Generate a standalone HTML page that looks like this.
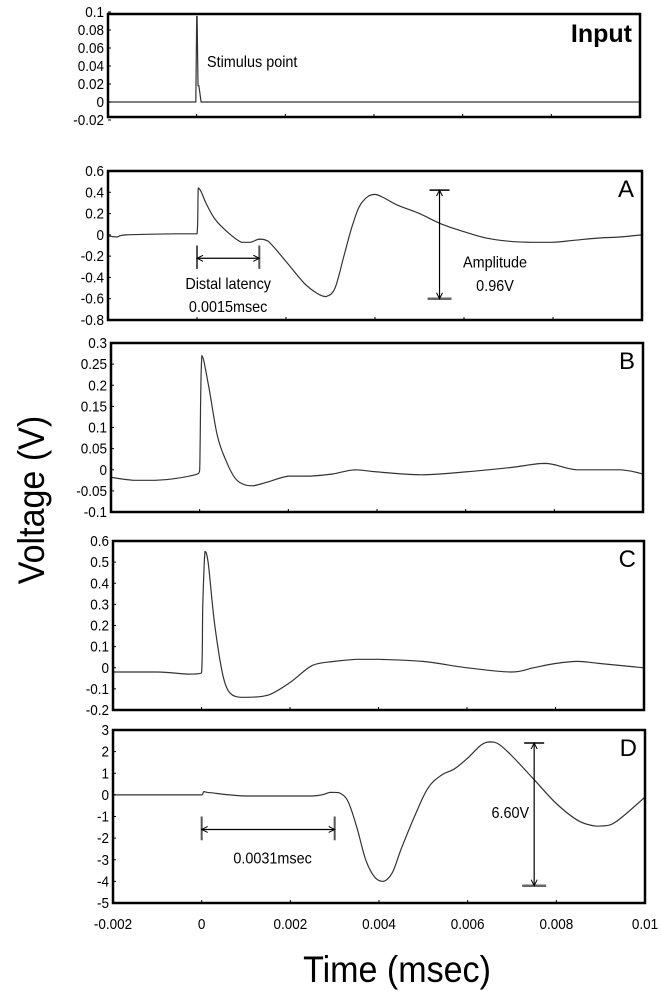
<!DOCTYPE html>
<html><head><meta charset="utf-8"><style>
html,body{margin:0;padding:0;background:#fff;}
svg{display:block;font-family:"Liberation Sans",sans-serif;}
</style></head><body>
<svg id="chart" width="661" height="1000" viewBox="0 0 661 1000" xmlns="http://www.w3.org/2000/svg">
<text x="0" y="0" transform="translate(44,500) rotate(-90) scale(0.92,1)" text-anchor="middle" font-size="37">Voltage (V)</text>
<text x="0" y="0" transform="translate(397,982) scale(0.92,1)" text-anchor="middle" font-size="37">Time (msec)</text>
</svg>
<script>
const xTicks=[-0.002,0,0.002,0.004,0.006,0.008,0.01];
const xTickLabels=["-0.002","0","0.002","0.004","0.006","0.008","0.01"];
const inputT=[-0.002,-0.00002,0,0.00001,0.00003,0.00005,0.0001,0.01];
const inputV=[0,0,0.095,0.095,0.018,0.018,0,0];
const aT=[-0.002,-0.0018,-0.0016,-0.0005,0,0.00003,0.0001,0.0002,0.0004,0.0007,0.001,0.0012,0.0014,0.0016,0.002,0.0024,0.0027,0.0029,0.0031,0.0033,0.0035,0.0037,0.004,0.0045,0.005,0.0055,0.006,0.0065,0.007,0.0075,0.008,0.0085,0.009,0.0095,0.01];
const aV=[-0.01,-0.02,0,0.01,0.01,0.44,0.4,0.3,0.15,0.02,-0.07,-0.07,-0.04,-0.06,-0.25,-0.45,-0.55,-0.58,-0.5,-0.2,0.1,0.3,0.38,0.28,0.2,0.1,0.03,-0.03,-0.06,-0.07,-0.07,-0.05,-0.03,-0.02,0];
const bT=[-0.002,-0.0015,-0.001,-0.0005,-0.00005,0.0,0.00005,0.0002,0.0004,0.0006,0.0008,0.001,0.0012,0.0015,0.002,0.0025,0.003,0.0035,0.004,0.005,0.006,0.007,0.0078,0.0085,0.0095,0.01];
const bV=[-0.018,-0.025,-0.025,-0.02,-0.01,0.0,0.27,0.2,0.08,0.02,-0.02,-0.035,-0.038,-0.03,-0.015,-0.015,-0.01,0.0,-0.005,-0.012,-0.005,0.005,0.015,0.0,0.0,-0.01];
const cT=[-0.002,-0.001,-0.0003,0,0.00003,0.00008,0.00015,0.0003,0.0005,0.0007,0.001,0.0015,0.002,0.0025,0.003,0.0035,0.004,0.005,0.006,0.007,0.0075,0.008,0.0085,0.009,0.01];
const cV=[-0.02,-0.02,-0.03,-0.025,0.3,0.55,0.5,0.2,-0.05,-0.13,-0.14,-0.13,-0.07,0.01,0.03,0.04,0.04,0.03,0.0,-0.02,0.0,0.02,0.03,0.02,0.0];
const dT=[-0.002,0,0.00005,0.0002,0.001,0.0025,0.0029,0.0031,0.0033,0.0035,0.0037,0.0039,0.0041,0.0043,0.0045,0.0048,0.0051,0.0054,0.0057,0.006,0.0063,0.0065,0.0067,0.007,0.0075,0.008,0.0085,0.0089,0.0092,0.0095,0.01];
const dV=[0,0,0.15,0.1,-0.05,-0.05,0.12,0.1,-0.3,-1.5,-3,-3.8,-4,-3.6,-2.5,-1,0.3,0.9,1.2,1.7,2.3,2.45,2.35,1.8,0.7,-0.4,-1.2,-1.45,-1.4,-1.0,-0.1];
const inputYTicks=["0.1","0.08","0.06","0.04","0.02","0","-0.02"];
const aYTicks=["0.6","0.4","0.2","0","-0.2","-0.4","-0.6","-0.8"];
const bYTicks=["0.3","0.25","0.2","0.15","0.1","0.05","0","-0.05","-0.1"];
const cYTicks=["0.6","0.5","0.4","0.3","0.2","0.1","0","-0.1","-0.2"];
const dYTicks=["3","2","1","0","-1","-2","-3","-4","-5"];

const svg=document.getElementById('chart');
const NS='http://www.w3.org/2000/svg';
function mk(tag,attrs,parent){const e=document.createElementNS(NS,tag);for(const k in attrs)e.setAttribute(k,attrs[k]);(parent||svg).appendChild(e);return e;}
function clamp(v,a,b){const lo=Math.min(a,b),hi=Math.max(a,b);return Math.max(lo,Math.min(hi,v));}
function smoothPath(px,py,smooth){
  let d='M'+px[0].toFixed(1)+' '+py[0].toFixed(1);
  for(let i=0;i<px.length-1;i++){
    if(!smooth){d+='L'+px[i+1].toFixed(1)+' '+py[i+1].toFixed(1);continue;}
    const i0=Math.max(0,i-1),i3=Math.min(px.length-1,i+2);
    let c1x=px[i]+(px[i+1]-px[i0])/6, c1y=py[i]+(py[i+1]-py[i0])/6;
    let c2x=px[i+1]-(px[i3]-px[i])/6, c2y=py[i+1]-(py[i3]-py[i])/6;
    c1x=clamp(c1x,px[i],px[i+1]);c2x=clamp(c2x,px[i],px[i+1]);
    c1y=clamp(c1y,py[i],py[i+1]);c2y=clamp(c2y,py[i],py[i+1]);
    d+='C'+c1x.toFixed(1)+' '+c1y.toFixed(1)+' '+c2x.toFixed(1)+' '+c2y.toFixed(1)+' '+px[i+1].toFixed(1)+' '+py[i+1].toFixed(1);
  }
  return d;
}

function panel(name,L,T,R,B,vmax,vmin,yTicks,ts,vs,label,lfs,bold,yfn){
  const g=mk('g',{});
  
  
  const xs=t=>L+(t+0.002)/0.012*(R-L);
  const ys=yfn||(v=>T+(vmax-v)/(vmax-vmin)*(B-T));
  const d=smoothPath(ts.map(xs),vs.map(ys),!yfn);
  const p=mk('path',{d:d,fill:'none',stroke:'#333','stroke-width':1.2},g);
  
  
  const f=mk('rect',{x:L,y:T,width:R-L,height:B-T,fill:'none',stroke:'#000','stroke-width':2.5},g);
  
  
  for(let i=0;i<yTicks.length;i++){
    const v=parseFloat(yTicks[i]);const y=ys(v);
    mk('line',{x1:L,x2:L+3,y1:y,y2:y,stroke:'#000','stroke-width':1},g);
    const tx=mk('text',{x:0,y:0,transform:`translate(${L-4},${y+5}) scale(0.9,1)`,'text-anchor':'end','font-size':15},g);
    tx.textContent=yTicks[i];
    
    
  }
  for(let i=1;i<xTicks.length-1;i++){const x=xs(xTicks[i]);mk('line',{x1:x,x2:x,y1:B,y2:B-3,stroke:'#000','stroke-width':1},g);}
  const lt=mk('text',{x:R-8,y:T+(bold?28:26),'text-anchor':'end','font-size':lfs,'font-weight':bold?'bold':'normal'},g);
  lt.textContent=label;
  
  
  return {g,xs,ys};
}
function arrowH(g,x1,x2,y,yb1,yb2,name){
  const a=mk('g',{},g);
  
  
  mk('line',{x1:x1,x2:x2,y1:y,y2:y,stroke:'#000','stroke-width':1.2},a);
  mk('line',{x1:x1,x2:x1,y1:yb1,y2:yb2,stroke:'#555','stroke-width':2},a);
  mk('line',{x1:x2,x2:x2,y1:yb1,y2:yb2,stroke:'#555','stroke-width':2},a);
  mk('path',{d:`M${x1+6} ${y-3}L${x1} ${y}L${x1+6} ${y+3}M${x2-6} ${y-3}L${x2} ${y}L${x2-6} ${y+3}`,fill:'none',stroke:'#000','stroke-width':1},a);
}
function arrowV(g,x,y1,y2,name){
  const a=mk('g',{},g);
  
  
  mk('line',{x1:x,x2:x,y1:y1,y2:y2,stroke:'#000','stroke-width':1.2},a);
  mk('line',{x1:x-10,x2:x+10,y1:y1,y2:y1,stroke:'#000','stroke-width':1.5},a);
  mk('line',{x1:x-12,x2:x+12,y1:y2,y2:y2,stroke:'#666','stroke-width':2.5},a);
  mk('path',{d:`M${x-3} ${y1+6}L${x} ${y1}L${x+3} ${y1+6}M${x-3} ${y2-6}L${x} ${y2}L${x+3} ${y2-6}`,fill:'none',stroke:'#000','stroke-width':1},a);
}
function txt(g,x,y,s,anchor,name,fs){
  const t=mk('text',{x:0,y:0,transform:`translate(${x},${y}) scale(0.9,1)`,'text-anchor':anchor,'font-size':fs||16},g);
  t.textContent=s;
  
  
}

const pi=panel('input',108,14,640,117,0.1,-0.02,inputYTicks,inputT,inputV,'Input',25,true,v=>102-v/0.02*18);
txt(pi.g,207,67,'Stimulus point','start','stimulus-point-annotation',16);

const pa=panel('a',108,171,642,320,0.6,-0.8,aYTicks,aT,aV,'A',24,false);
arrowH(pa.g,pa.xs(0),pa.xs(0.0014),pa.ys(-0.22),pa.ys(-0.1),pa.ys(-0.32),'distal-latency-bracket');
txt(pa.g,pa.xs(0.0007),pa.ys(-0.45)+6,'Distal latency','middle','distal-latency-label');
txt(pa.g,pa.xs(0.0007),pa.ys(-0.67)+6,'0.0015msec','middle','distal-latency-value');
arrowV(pa.g,pa.xs(0.00545),pa.ys(0.42),pa.ys(-0.6),'amplitude-arrow');
txt(pa.g,495,pa.ys(-0.25)+6,'Amplitude','middle','amplitude-label');
txt(pa.g,495,pa.ys(-0.47)+6,'0.96V','middle','amplitude-value');

const pb=panel('b',111,343,643,512,0.3,-0.1,bYTicks,bT,bV,'B',24,false);
const pc=panel('c',113,541,644,710,0.6,-0.2,cYTicks,cT,cV,'C',24,false);
const pd=panel('d',113,730,645,903,3,-5,dYTicks,dT,dV,'D',24,false);
arrowH(pd.g,pd.xs(0),pd.xs(0.003),pd.ys(-1.6),pd.ys(-1.0),pd.ys(-2.1),'d-latency-bracket');
txt(pd.g,pd.xs(0.0016),pd.ys(-2.9)+6,'0.0031msec','middle','d-latency-value');
arrowV(pd.g,pd.xs(0.0075),pd.ys(2.4),pd.ys(-4.2),'d-amplitude-arrow');
txt(pd.g,pd.xs(0.0075)-5,pd.ys(-0.8)+6,'6.60V','end','d-amplitude-value');

for(let i=0;i<xTicks.length;i++){
  const t=mk('text',{x:0,y:0,transform:`translate(${pd.xs(xTicks[i])},929) scale(0.9,1)`,'text-anchor':'middle','font-size':15});
  t.textContent=xTickLabels[i];
  
  
}
</script>
</body></html>
